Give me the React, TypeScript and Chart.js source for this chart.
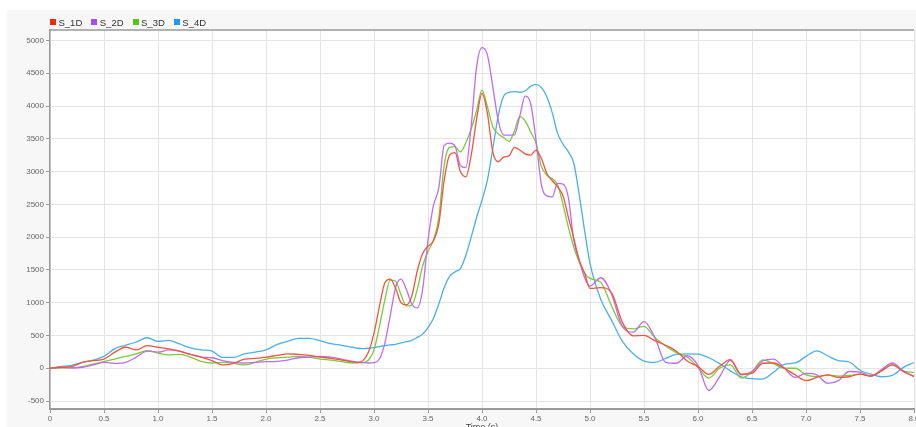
import React, { useEffect, useRef } from "react";
import { Chart, registerables } from "chart.js";

Chart.register(...registerables);

const TIME = [
  0, 0.1, 0.2, 0.3, 0.4, 0.5, 0.6, 0.7, 0.8, 0.9, 1.0, 1.1, 1.2, 1.3, 1.4, 1.5, 1.6, 1.7, 1.8, 1.9,
  2.0, 2.1, 2.2, 2.3, 2.4, 2.5, 2.6, 2.7, 2.8,
  2.85, 2.9, 2.95, 3.0, 3.05, 3.1, 3.15, 3.2, 3.25, 3.3, 3.35, 3.4, 3.45, 3.5, 3.55, 3.6, 3.65, 3.7,
  3.75, 3.8, 3.85, 3.9, 3.95, 4.0, 4.05, 4.1, 4.15, 4.2, 4.25, 4.3, 4.35, 4.4, 4.45, 4.5, 4.55, 4.6,
  4.65, 4.7, 4.75, 4.8, 4.85, 4.9, 4.95, 5.0,
  5.1, 5.2, 5.3, 5.4, 5.5, 5.6, 5.7, 5.8, 5.9, 6.0, 6.1, 6.2, 6.3, 6.4, 6.5, 6.6, 6.7, 6.8, 6.9,
  7.0, 7.1, 7.2, 7.3, 7.4, 7.5, 7.6, 7.7, 7.8, 7.9, 8.0,
];

const S_1D = [
  0, 15, 25, 90, 115, 140, 245, 320, 280, 345, 320, 295, 260, 210, 170, 115, 50, 75, 140, 150,
  170, 195, 220, 210, 195, 170, 150, 125, 100,
  85, 120, 250, 535, 940, 1300, 1360, 1220, 1000, 965, 1100, 1480, 1750, 1860, 1940, 2200, 2870, 3250,
  3290, 3000, 2920, 3250, 3800, 4194, 3888, 3300, 3150, 3220, 3240, 3370, 3330, 3270, 3252, 3328, 3200, 2972,
  2860, 2768, 2630, 2300, 1980, 1650, 1450, 1217,
  1230, 1150, 700, 495, 500, 420, 350, 260, 110, 25, -95, 30, 130, -90, -76, 76, 80, 0, -100,
  -190, -140, -100, -140, -130, -90, -120, -40, 50, -50, -127,
];

const S_2D = [
  0, 15, 5, 15, 50, 90, 75, 90, 170, 260, 245, 280, 260, 210, 170, 160, 115, 90, 80, 90,
  100, 105, 125, 160, 170, 180, 170, 140, 105,
  95, 85, 80, 85, 140, 380, 800, 1230, 1360, 1200, 980, 920, 1200, 1950, 2480, 2750, 3400, 3435,
  3390, 3090, 3060, 3700, 4600, 4890, 4780, 4295, 3780, 3557, 3557, 3560, 3850, 4150, 4041, 3481, 2800, 2630,
  2615, 2820, 2810, 2600, 1952, 1650, 1380, 1253,
  1380, 1130, 634, 550, 710, 470, 90, 76, 190, 40, -340, -130, 120, -101, -50, 110, 140, 0, -140,
  -80, -101, -230, -190, -50, -60, -120, -20, 80, -40, -127,
];

const S_3D = [
  0, 5, 5, 25, 65, 100, 140, 180, 220, 270, 230, 205, 210, 170, 105, 80, 90, 75, 50, 90,
  140, 160, 170, 180, 170, 140, 125, 100, 80,
  85, 85, 125, 280, 635, 1040, 1345, 1330, 1120, 950, 960, 1200, 1560, 1780, 1955, 2300, 3100, 3370,
  3380, 3300, 3440, 3650, 3930, 4244, 3990, 3684, 3575, 3520, 3460, 3620, 3837, 3770, 3608, 3430, 3080, 2947,
  2890, 2800, 2500, 2150, 1850, 1620, 1450, 1370,
  1310, 950, 640, 600, 640, 470, 340, 238, 170, 10, -150, 0, 51, -152, -51, 127, 70, 0, 0,
  -100, -127, -105, -120, -110, -90, -120, -35, 50, -40, -66,
];

const S_4D = [
  0, 25, 45, 90, 125, 180, 300, 350, 400, 465, 410, 425, 370, 310, 280, 260, 165, 165, 220, 245,
  280, 360, 410, 455, 455, 420, 375, 350, 320,
  305, 300, 305, 315, 330, 345, 355, 365, 385, 405, 425, 470, 520, 620, 760, 980, 1230, 1400,
  1470, 1520, 1720, 2000, 2300, 2565, 2870, 3350, 3850, 4150, 4210, 4220, 4210, 4230, 4300, 4330, 4280, 4142,
  3900, 3583, 3420, 3300, 3127, 2650, 2100, 1600,
  1050, 730, 410, 220, 110, 90, 150, 210, 220, 215, 160, 70, -40, -130, -160, -165, -60, 60, 80,
  180, 265, 190, 115, 95, -30, -90, -130, -110, 10, 85,
];

const SERIES_NAMES = ["S_1D", "S_2D", "S_3D", "S_4D"];
const SERIES_VALUES = [S_1D, S_2D, S_3D, S_4D];
const LINE_COLORS = ["#f2543d", "#bd6cf2", "#78cc3a", "#4aafe8"];
const LEGEND_COLORS = ["#ee2a10", "#a94bf0", "#55c51a", "#2196f3"];

const X_TICKS = [0, 0.5, 1, 1.5, 2, 2.5, 3, 3.5, 4, 4.5, 5, 5.5, 6, 6.5, 7, 7.5, 8];
const Y_TICKS = [-500, 0, 500, 1000, 1500, 2000, 2500, 3000, 3500, 4000, 4500, 5000];

const X_TITLE = "Time (s)";
const FONT = '"Liberation Sans", Arial, sans-serif';

const areaPlugin = {
  id: "areaPlugin",
  beforeDraw(chart: any) {
    const { ctx, chartArea } = chart;
    ctx.save();
    ctx.fillStyle = "#ffffff";
    ctx.fillRect(chartArea.left, chartArea.top, chartArea.right - chartArea.left, chartArea.bottom - chartArea.top);
    ctx.restore();
  },
  afterDraw(chart: any) {
    const { ctx, chartArea } = chart;
    ctx.save();
    ctx.strokeStyle = "#9a9a9a";
    ctx.lineWidth = 1.5;
    ctx.beginPath();
    ctx.moveTo(chartArea.left, chartArea.top);
    ctx.lineTo(chartArea.right, chartArea.top);
    ctx.stroke();
    ctx.restore();
  },
};

export default function App() {
  const canvasRef = useRef<HTMLCanvasElement | null>(null);

  useEffect(() => {
    if (!canvasRef.current) return;
    const datasets = SERIES_NAMES.map((name, i) => ({
      label: name,
      data: TIME.map((t, j) => ({ x: t, y: SERIES_VALUES[i][j] })),
      borderColor: LINE_COLORS[i],
      backgroundColor: LINE_COLORS[i],
      borderWidth: 1.3,
      pointRadius: 0,
      fill: false,
      cubicInterpolationMode: "monotone" as const,
    }));

    const chart = new Chart(canvasRef.current, {
      type: "line",
      data: { datasets },
      plugins: [areaPlugin],
      options: {
        animation: false,
        responsive: false,
        maintainAspectRatio: false,
        layout: { padding: { top: 20, right: 33, left: 0, bottom: 0 } },
        plugins: { legend: { display: false }, tooltip: { enabled: false } },
        scales: {
          x: {
            type: "linear",
            min: 0,
            max: 8,
            afterBuildTicks: (scale: any) => {
              scale.ticks = X_TICKS.map((v) => ({ value: v }));
            },
            ticks: {
              autoSkip: false,
              maxRotation: 0,
              padding: 1,
              color: "#666",
              font: { size: 8, family: FONT },
              callback: (v: any) => (Number(v) === 0 ? "0" : Number(v).toFixed(1)),
            },
            grid: { color: "#e4e4e4", tickColor: "#9a9a9a", tickLength: 4, lineWidth: 1 },
            border: { color: "#9a9a9a", width: 2 },
            title: {
              display: true,
              text: X_TITLE,
              color: "#444",
              font: { size: 9, family: FONT },
              padding: { top: 0, bottom: 7 },
            },
            afterFit: (scale: any) => {
              scale.height = 31;
            },
          },
          y: {
            type: "linear",
            min: -622,
            max: 5160,
            afterBuildTicks: (scale: any) => {
              scale.ticks = Y_TICKS.map((v) => ({ value: v }));
            },
            ticks: {
              padding: 2,
              color: "#666",
              font: { size: 8, family: FONT },
              callback: (v: any) => String(v),
            },
            grid: { color: "#e4e4e4", tickColor: "#9a9a9a", tickLength: 4, lineWidth: 1 },
            border: { color: "#9a9a9a", width: 1.5 },
            afterFit: (scale: any) => {
              scale.width = 43;
            },
          },
        },
      },
    });
    return () => chart.destroy();
  }, []);

  return (
    <div
      style={{
        position: "fixed",
        left: 0,
        top: 0,
        width: 916,
        height: 427,
        overflow: "hidden",
        background: "#ffffff",
      }}
    >
      <div style={{ position: "absolute", left: 7, top: 10, right: 0, bottom: 0, background: "#f7f7f7" }} />
      <canvas
        ref={canvasRef}
        width={940}
        height={430}
        style={{ position: "absolute", left: 7, top: 10, width: 940, height: 430 }}
      />
      <div
        style={{
          position: "absolute",
          left: 50,
          top: 16,
          height: 12,
          display: "flex",
          alignItems: "center",
          fontFamily: FONT,
          fontSize: 9.5,
          color: "#333",
          whiteSpace: "nowrap",
        }}
      >
        {SERIES_NAMES.map((name, i) => (
          <div key={name} style={{ display: "flex", alignItems: "center", marginRight: 9 }}>
            <span
              style={{
                display: "inline-block",
                width: 6,
                height: 6,
                background: LEGEND_COLORS[i],
                marginRight: 2.5,
              }}
            />
            <span>{name}</span>
          </div>
        ))}
      </div>
    </div>
  );
}
